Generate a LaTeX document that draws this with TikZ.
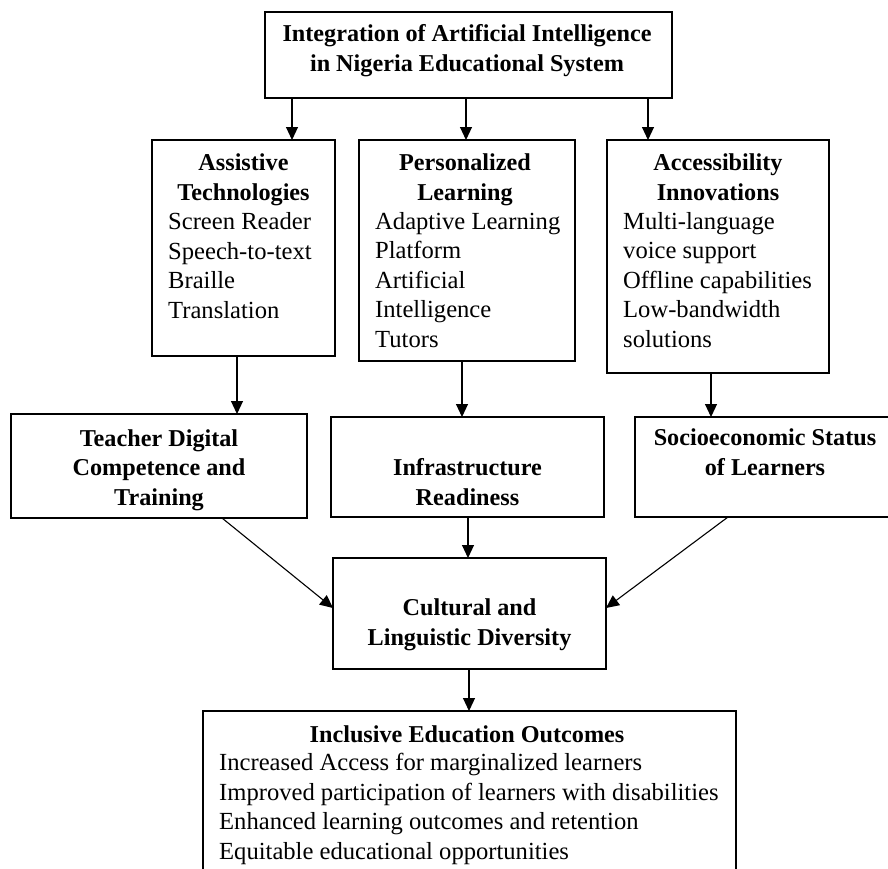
\documentclass[tikz,border=0pt]{standalone}
\usepackage{fontspec}
\setmainfont{Liberation Serif}
\usetikzlibrary{arrows.meta}
\tikzset{
  boxnode/.style={draw=black, line width=1.1pt, rectangle, inner sep=0pt, outer sep=0pt, anchor=north west},
  hd/.style={font=\fontsize{24.2}{29.3}\selectfont\bfseries, align=center, inner sep=0pt, anchor=base},
  bd/.style={font=\fontsize{24.6}{29.5}\selectfont, align=left, inner sep=0pt, anchor=base west},
  arr/.style={line width=1.1pt, -{Triangle[length=13pt,width=12pt]}},
}
\begin{document}
\begin{tikzpicture}[x=1pt,y=-1pt]
\useasboundingbox (0,0) rectangle (888,868);
\fill[white] (0,0) rectangle (888,868);
\clip (0,0) rectangle (888,868);

% boxes
\node[boxnode, minimum width=407pt, minimum height=86pt] (top) at (265,12) {};
\node[boxnode, minimum width=183pt, minimum height=216pt] (assist) at (152,140) {};
\node[boxnode, minimum width=216pt, minimum height=221pt] (pers) at (359,140) {};
\node[boxnode, minimum width=222pt, minimum height=233pt] (access) at (607,140) {};
\node[boxnode, minimum width=296pt, minimum height=104pt] (teacher) at (11,414) {};
\node[boxnode, minimum width=273pt, minimum height=100pt] (infra) at (331,417) {};
\node[boxnode, minimum width=262pt, minimum height=100pt] (socio) at (635,417) {};
\node[boxnode, minimum width=273pt, minimum height=111pt] (cult) at (333,558) {};
\node[boxnode, minimum width=533pt, minimum height=180pt] (outc) at (203,711) {};

% texts (anchor = baseline of last line)
\node[hd] (topT) at (467,71) {Integration of Artificial Intelligence\\in Nigeria Educational System};
\node[hd] (assistH) at (243.5,200) {Assistive\\Technologies};
\node[bd] (assistB) at (168,318) {Screen Reader\\Speech-to-text\\Braille\\Translation};
\node[hd] (persH) at (465,200) {Personalized\\Learning};
\node[bd] (persB) at (375,347) {Adaptive Learning\\Platform\\Artificial\\Intelligence\\Tutors};
\node[hd] (accessH) at (718,200) {Accessibility\\Innovations};
\node[bd] (accessB) at (623,347) {Multi-language\\voice support\\Offline capabilities\\Low-bandwidth\\solutions};
\node[hd] (teacherT) at (159,505) {Teacher Digital\\Competence and\\Training};
\node[hd] (infraT) at (467.5,505) {Infrastructure\\Readiness};
\node[hd] (socioT) at (765,475) {Socioeconomic Status\\of Learners};
\node[hd] (cultT) at (469.5,645) {Cultural and\\Linguistic Diversity};
\node[hd] (outcH) at (467,742) {Inclusive Education Outcomes};
\node[bd] (outcB) at (219,859) {Increased Access for marginalized learners\\Improved participation of learners with disabilities\\Enhanced learning outcomes and retention\\Equitable educational opportunities};

% connectors
\draw[arr] (top.south -| 292,0) -- (assist.north -| 292,0);
\draw[arr] (top.south -| 466,0) -- (pers.north -| 466,0);
\draw[arr] (top.south -| 648,0) -- (access.north -| 648,0);
\draw[arr] (assist.south -| 237,0) -- (teacher.north -| 237,0);
\draw[arr] (pers.south -| 462,0) -- (infra.north -| 462,0);
\draw[arr] (access.south -| 711,0) -- (socio.north -| 711,0);
\draw[arr] (infra.south -| 468,0) -- (cult.north -| 468,0);
\draw[arr] (teacher.south -| 222,0) -- (cult.west |- 0,608);
\draw[arr] (socio.south -| 728,0) -- (cult.east |- 0,608);
\draw[arr] (cult.south -| 469,0) -- (outc.north -| 469,0);
\end{tikzpicture}
\end{document}
